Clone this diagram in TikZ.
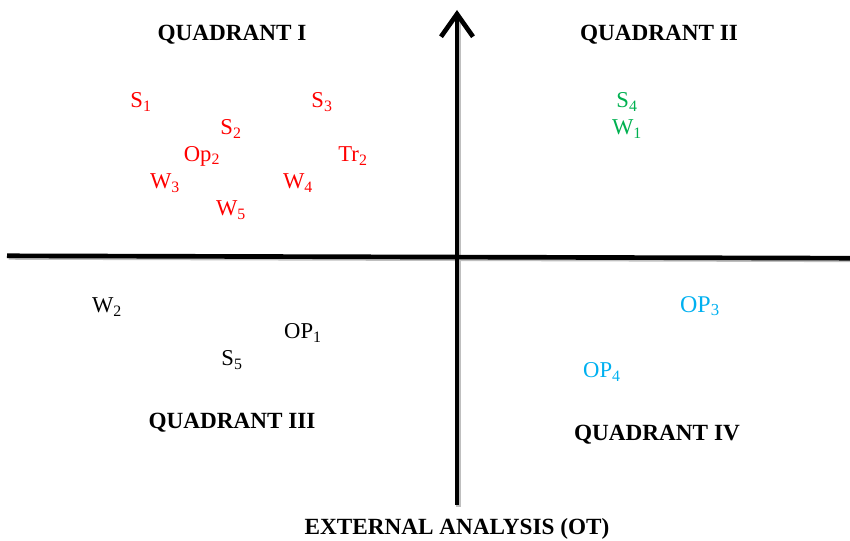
\documentclass[tikz,border=0pt]{standalone}
\usepackage{fontspec}
\setmainfont{Liberation Serif}
\usepackage{tikz}
\usepackage{xcolor}
\usetikzlibrary{arrows.meta}
\definecolor{strcol}{HTML}{FF0000}
\definecolor{goodcol}{HTML}{00B050}
\definecolor{oppcol}{HTML}{00B0F0}

\begin{document}
\begin{tikzpicture}[
  x=0.75pt, y=-0.75pt,
  axis/.style={line width=3.5pt},
  axisshade/.style={line width=3.5pt, black!25},
  quadlabel/.style={font=\fontsize{17.4}{20}\selectfont\bfseries, inner sep=0pt},
  factor/.style={font=\fontsize{17}{20}\selectfont, inner sep=0pt},
  inq/.style={factor, text=strcol},
  goodq/.style={factor, text=goodcol},
  oppq/.style={factor, text=oppcol},
]
\useasboundingbox (0,0) rectangle (850,541);

% axes
\coordinate (HL) at (7,255.8);
\coordinate (HR) at (850,258.2);
\coordinate (VB) at (457,505);
\coordinate (VT) at (457,10);
\draw[axisshade] ([xshift=1.2pt,yshift=-1.2pt]HL) -- ([yshift=-1.2pt]HR);
\draw[axisshade] ([xshift=1.2pt,yshift=-1.2pt]VB) -- ([xshift=1.2pt,yshift=-8pt]VT);
\draw[axis] (HL) -- (HR);
\draw[axis, -{Straight Barb[length=17pt, width=24pt]}] (VB) -- (VT);

% quadrant titles
\node[quadlabel] (Q1) at (232,35) {QUADRANT I};
\node[quadlabel] (Q2) at (659,35) {QUADRANT II};
\node[quadlabel] (Q3) at (232,423) {QUADRANT III};
\node[quadlabel] (Q4) at (657,435) {QUADRANT IV};
\node[quadlabel] (EXT) at (457,529) {EXTERNAL ANALYSIS (OT)};

% quadrant I
\node[inq] (S1)  at (141,102) {S\textsubscript{1}};
\node[inq] (S3)  at (322,102) {S\textsubscript{3}};
\node[inq] (S2)  at (231,129) {S\textsubscript{2}};
\node[inq] (Op2) at (202,156) {Op\textsubscript{2}};
\node[inq] (Tr2) at (353,156) {Tr\textsubscript{2}};
\node[inq] (W3)  at (165,183) {W\textsubscript{3}};
\node[inq] (W4)  at (298,183) {W\textsubscript{4}};
\node[inq] (W5)  at (231,210) {W\textsubscript{5}};

% quadrant II
\node[goodq] (S4) at (627,102) {S\textsubscript{4}};
\node[goodq] (W1) at (627,129) {W\textsubscript{1}};

% quadrant III
\node[factor] (W2)  at (107,307) {W\textsubscript{2}};
\node[factor] (OP1) at (303,333) {OP\textsubscript{1}};
\node[factor] (S5)  at (232,360) {S\textsubscript{5}};

% quadrant IV
\node[oppq, font=\fontsize{18}{21}\selectfont] (OP3) at (700,306) {OP\textsubscript{3}};
\node[oppq] (OP4) at (602,372) {OP\textsubscript{4}};

\end{tikzpicture}
\end{document}
